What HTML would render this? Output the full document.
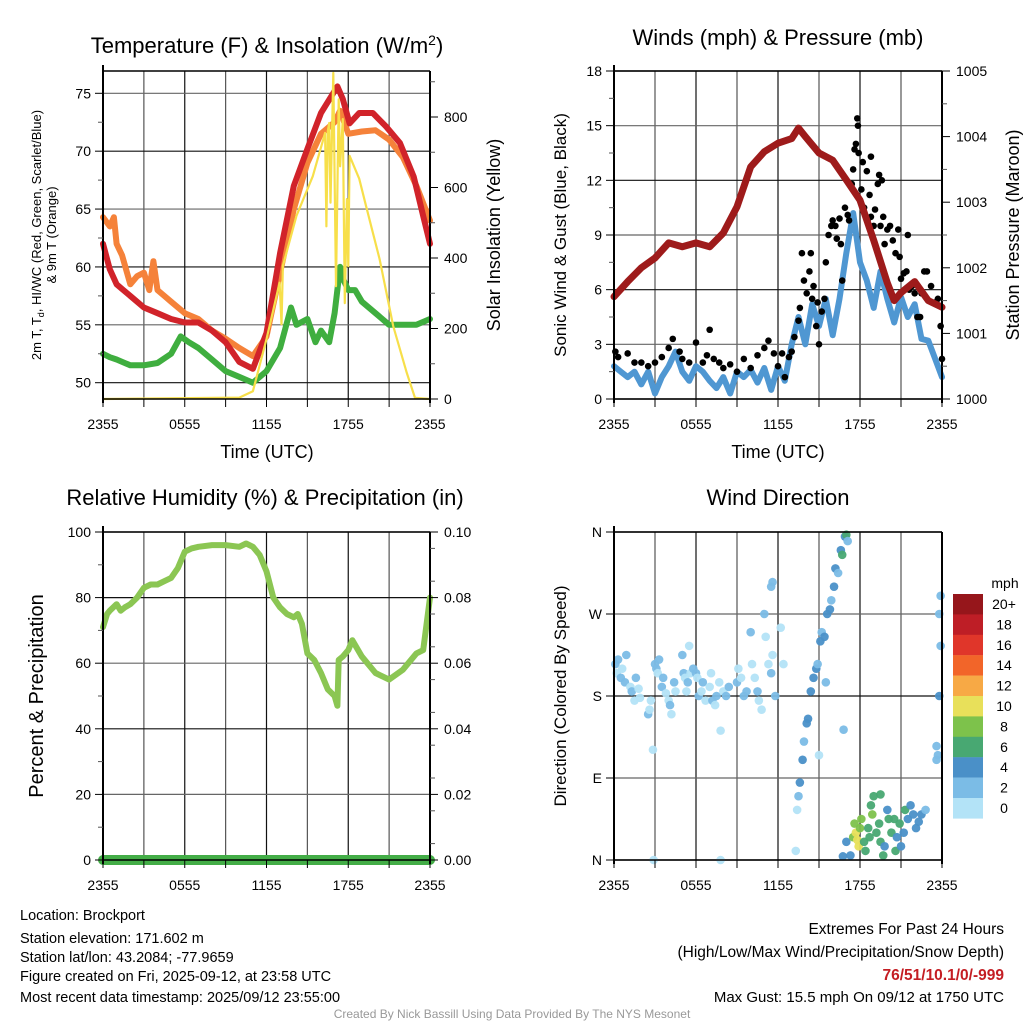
<!DOCTYPE html>
<html><head><meta charset="utf-8">
<style>
html,body{margin:0;padding:0;background:#fff;}
svg{display:block;font-family:"Liberation Sans",sans-serif;}
</style></head>
<body>
<svg id="fig" width="1024" height="1024" viewBox="0 0 1024 1024" xmlns="http://www.w3.org/2000/svg">
<g id="layer-grid"></g>
<g id="layer-data"></g>
<g id="layer-axes"></g>
<g id="layer-text"></g>
</svg>
<script>
// ===== Panel 1 data (hours since 2355) =====
const tempHours = [0,0.5,1,1.5,2,3,4,5,6,7,8,9,10,11,12,13,14,15,16,17.2,17.6,18.1,18.8,19.8,20.8,21.8,22.8,23.5,24];
const tempRed   = [62,59.8,58.5,58,57.5,56.5,56,55.5,55.2,55.2,54.5,53.5,51.8,51.2,54.3,61.2,67,70.2,73.3,75.6,74.5,72.4,73.3,73.3,72.1,70.7,67.8,64.4,62];
const orangeHours=[0,0.5,0.8,1,1.4,2,2.5,3,3.4,3.7,4,4.5,5,6,7,8,9,10,11,12,13,14,15,16,17,17.4,18,19,20,21,22,23,24];
const tempOrange =[64.3,63.5,64.3,62,61,58.5,59.2,59.5,58,60.5,58,57.5,57,56,55.5,54.5,53.8,53,52.3,54,59.5,65,69,71.5,72.5,73.5,71.5,71.7,71.8,71,69.5,67,64];
const dewHours = [0,0.5,1,2,3,4,5,5.7,6.3,7,8,9,10,11,12,13,13.8,14.2,15,15.6,16,16.6,17,17.4,17.6,18,18.5,19,20,21,22,23,24];
const dewVals  = [52.5,52.2,52,51.5,51.5,51.7,52.5,54,53.5,53,52,51,50.5,50,51,53,56.5,55,55.5,53.5,54.5,53.5,56,60,59,58,58,57,56,55,55,55,55.5];
const solarHours=[0,10,11,12,12.96,13.1,13.2,14.2,15.4,16.3,16.4,16.5,16.6,16.7,16.9,17.1,17.3,17.4,17.6,17.75,17.9,18,18.1,18.8,19.3,20.3,21.3,22.3,22.9,24];
const solarVals =[0,4,22,170,330,212,378,520,632,755,490,760,783,557,925,320,850,660,794,272,567,377,690,625,548,397,207,74,3,0];
const p1YTicks=[50,55,60,65,70,75];
const p1Y2Ticks=[0,200,400,600,800];
const xTickLabels=["2355","0555","1155","1755","2355"];
// ===== Panel 2 data =====
const presHours=[0,1,2,3,4,5,6,7,8,9,10,11,12,13,13.5,14,15,16,17,18,19,20,20.5,21,22,23,24];
const presVals =[1001.56,1001.79,1002.0,1002.15,1002.38,1002.32,1002.38,1002.32,1002.53,1002.93,1003.54,1003.77,1003.9,1003.97,1004.13,1004.0,1003.75,1003.64,1003.34,1003.03,1002.42,1001.77,1001.5,1001.62,1001.79,1001.5,1001.4];
const windVals=[1.8,1.5,1.2,1.5,0.8,1.5,0.3,1.2,1.8,2.6,1.5,1.0,1.8,1.5,1.0,0.6,1.2,0.3,1.5,1.2,1.6,0.9,1.7,0.5,1.8,1.0,3.0,4.5,3.0,5.2,4.0,5.5,3.5,5.5,8.0,10.2,7.5,6.5,5.0,7.0,5.5,4.2,5.6,4.5,5.2,3.3,3.2,2.2,1.2];
const gustHours=[0.1,0.3,1,1.5,2,2.5,3,3.5,4,4.3,4.8,5,5.5,6,6.5,6.8,7,7.3,7.7,8,8.5,9,9.5,10,10.5,11,11.3,11.7,12,12.3,12.5,12.8,13,13.2,13.5,13.6,13.75,13.9,14.1,14.3,14.4,14.5,14.6,14.8,14.9,15.0,15.2,15.4,15.5,15.7,15.9,16.0,16.2,16.3,16.5,16.6,16.7,16.9,17.1,17.2,17.4,17.5,17.6,17.7,17.8,17.85,17.9,18.1,18.2,18.3,18.5,18.6,18.7,18.8,18.8,19.0,19.1,19.3,19.4,19.5,19.6,19.7,19.8,20.0,20.2,20.4,20.6,20.8,20.9,21.0,21.2,21.4,21.5,21.6,21.8,22.0,22.2,22.4,22.5,22.7,22.9,23.2,23.5,23.7,23.9,24];
const gustVals =[2.6,2.3,2.5,2.0,2.0,1.8,2.0,2.3,2.8,3.3,2.6,2.2,2.0,3.1,2.0,2.4,3.8,2.2,2.0,1.7,1.9,1.5,2.2,1.7,2.4,2.8,3.2,2.5,1.8,2.5,1.2,2.3,2.6,3.4,4.3,5.0,8.0,6.5,5.8,7.0,8.0,5.5,6.2,4.0,5.3,3.0,4.8,5.5,7.5,9.0,9.5,9.8,9.5,8.8,9.9,8.5,6.5,10.5,10.1,9.8,11.8,12.6,13.7,14.0,15.4,15.0,13.5,11.5,13.0,10.5,12.5,9.9,11.2,10.0,13.3,9.5,10.4,11.8,12.3,9.5,12.0,10.0,8.5,9.3,9.5,8.7,8.0,9.3,7.8,6.6,6.9,7.0,9.0,6.0,6.2,5.8,4.5,4.5,5.8,7.0,7.0,6.2,5.3,5.5,4.0,2.2];
const p2YTicks=[0,3,6,9,12,15,18];
const p2Y2Ticks=[1000,1001,1002,1003,1004,1005];
// ===== Panel 3 data =====
const rhHours=[0,0.3,0.5,1,1.3,1.6,2,2.5,3,3.5,4,4.5,5,5.5,6,6.5,7,8,9,10,10.5,11,11.5,12,12.5,13,13.5,14,14.3,14.6,15,15.5,16,16.5,17,17.2,17.3,17.6,18,18.3,19,20,21,22,23,23.5,24];
const rhVals =[71,75,76,78,76,77,78,80,83,84,84,85,86,89,94,95,95.5,96,96,95.5,96.5,95.5,93,88,80,77,75,74,75,72,63,61,57,52,50,47,61,62,64,67,62,57,55,58,63,64,80];
const precipVals=[0,0,0,0,0,0,0,0,0,0,0,0,0,0,0,0,0,0,0,0,0,0,0,0,0];
const p3YTicks=[0,20,40,60,80,100];
const p3Y2Ticks=["0.00","0.02","0.04","0.06","0.08","0.10"];
// ===== Panel 4 data (hour, direction deg, speed mph) =====
const dirHours=[0.1,0.2,0.3,0.5,0.6,0.8,0.9,1.2,1.3,1.5,1.6,1.8,1.9,2.5,2.6,2.7,3.0,3.1,3.2,3.3,3.5,3.6,3.8,4.0,4.1,4.2,4.4,4.5,5.0,5.1,5.2,5.3,5.4,5.6,5.5,5.8,6.0,6.1,6.2,6.4,6.5,6.7,7.0,7.1,7.2,7.4,7.5,7.7,8.0,8.2,8.4,9.0,9.1,9.3,9.5,9.7,10.0,10.1,10.3,10.5,10.6,10.8,11.0,11.1,11.3,11.5,11.6,11.8,11.5,11.6,12.2,12.4,2.85,2.9,7.8,7.8,13.3,13.4,13.5,13.6,13.8,13.9,14.1,14.2,14.4,14.6,14.8,14.9,15.1,15.2,15.0,15.5,15.4,15.6,15.8,15.9,16.1,16.2,16.4,16.6,16.7,16.9,17.0,17.1,16.8,17.0,17.3,17.5,17.6,17.7,17.8,17.9,18.0,18.1,18.3,18.4,18.6,18.7,18.8,18.9,19.0,19.2,19.4,19.5,19.7,19.8,20.0,20.1,20.3,20.5,20.6,20.7,20.9,21.0,21.2,21.3,21.5,21.7,21.9,22.1,22.3,22.5,22.8,16.75,19.5,23.6,23.7,23.6,23.8,23.8,23.9,23.9];
const dirVals=[215,205,220,200,210,195,225,190,185,175,200,188,178,160,165,175,215,210,205,220,190,200,183,175,170,160,195,185,225,205,200,185,195,205,235,210,205,200,180,185,195,175,190,205,175,170,180,195,185,180,190,195,210,200,180,185,250,215,200,185,175,165,270,245,215,205,225,180,300,305,255,215,121,0,142,0,10,55,70,85,110,130,150,155,185,200,210,215,240,250,115,195,245,270,275,285,300,320,315,340,335,355,357,350,143,20,5,25,40,30,22,15,35,45,20,10,35,25,60,50,70,30,40,20,5,15,55,45,30,45,10,25,40,15,30,55,45,60,50,35,42,50,55,4,72,110,115,125,180,270,290,235];
const dirSpeeds=[2,1,3,2,1,3,2,1,2,1,2,1,1,2,1,1,3,2,1,2,3,2,1,1,2,1,3,1,2,3,1,1,2,1,1,2,3,1,2,1,2,1,1,1,2,1,2,1,1,2,3,2,1,1,2,3,2,1,1,2,1,1,3,1,1,2,1,2,2,2,1,1,1,1,1,1,1,1,3,4,4,3,4,4,4,4,4,3,4,3,1,3,4,4,5,3,5,5,2,5,6,5,6,3,2,5,5,9,9,10,11,11,8,8,6,6,6,6,6,8,6,6,6,7,6,5,5,6,6,6,6,4,6,5,4,6,4,4,4,4,5,4,3,4,6,2,2,2,4,2,2,2];
const dirTickLabels=["N","E","S","W","N"];
const cbLabels=["20+","18","16","14","12","10","8","6","4","2","0"];
const cbColors=["#96161b","#be1e26","#e0362a","#f26529","#f7a945","#e8e05a","#7dc24b","#48a872","#4a90c8","#7bbce6","#b3e3f7"];

const NS="http://www.w3.org/2000/svg";
const gGrid=document.getElementById('layer-grid');
const gData=document.getElementById('layer-data');
const gAxes=document.getElementById('layer-axes');
const gText=document.getElementById('layer-text');
function mk(tag,attrs,parent){const e=document.createElementNS(NS,tag);for(const k in attrs)e.setAttribute(k,attrs[k]);parent.appendChild(e);return e;}
function txt(s,x,y,size,anchor,parent,extra){const e=mk('text',Object.assign({x:x,y:y,'font-size':size,'text-anchor':anchor||'middle',fill:'#000'},extra||{}),parent);e.textContent=s;return e;}

const P1={x0:103,x1:430,y0:71,y1:399};
const P2={x0:614,x1:942,y0:71,y1:399};
const P3={x0:103,x1:430,y0:532,y1:860};
const P4={x0:614,x1:942,y0:532,y1:860};
function xs(P){return h=>P.x0+(P.x1-P.x0)*h/24;}
function lin(d0,d1,r0,r1){return v=>r0+(v-d0)*(r1-r0)/(d1-d0);}

function frame(P,hLines,name){
  const g=mk('g',{},gGrid);
  
  
  for(let i=1;i<8;i++){const x=P.x0+(P.x1-P.x0)*i/8;mk('line',{x1:x,y1:P.y0,x2:x,y2:P.y1,stroke:i%2?'#555':'#111','stroke-width':1.2},g);}
  hLines.forEach((y,i)=>mk('line',{x1:P.x0,y1:y,x2:P.x1,y2:y,stroke:i%2?'#666':'#111','stroke-width':1.2},g));
  const a=mk('g',{},gAxes);
  
  
  mk('line',{x1:P.x0,y1:P.y0,x2:P.x1,y2:P.y0,stroke:'#000','stroke-width':1.5},a);
  mk('line',{x1:P.x0,y1:P.y1,x2:P.x1,y2:P.y1,stroke:'#000','stroke-width':1.5},a);
  mk('line',{x1:P.x0,y1:P.y0-6,x2:P.x0,y2:P.y1+4,stroke:'#000','stroke-width':2},a);
  mk('line',{x1:P.x1,y1:P.y0,x2:P.x1,y2:P.y1+4,stroke:'#000','stroke-width':2},a);
  for(let i=0;i<=8;i++){const x=P.x0+(P.x1-P.x0)*i/8;mk('line',{x1:x,y1:P.y1,x2:x,y2:P.y1+8,stroke:'#000','stroke-width':1},a);}
  xTickLabels.forEach((s,i)=>{const t=txt(s,P.x0+(P.x1-P.x0)*i/4,P.y1+30,14,'middle',gText);
    
    });
  return a;
}
function yTicksLeft(P,vals,sc,labels,a,minor){
  vals.forEach((v,i)=>{const y=sc(v);mk('line',{x1:P.x0-8,y1:y,x2:P.x0,y2:y,stroke:'#000'},a);
    const t=txt(labels?labels[i]:String(v),P.x0-12,y+5,14,'end',gText);
    
    });
  (minor||[]).forEach(v=>{const y=sc(v);mk('line',{x1:P.x0-5,y1:y,x2:P.x0,y2:y,stroke:'#555'},a);});
}
function yTicksRight(P,vals,sc,labels,a,minor){
  vals.forEach((v,i)=>{const y=sc(v);mk('line',{x1:P.x1,y1:y,x2:P.x1+8,y2:y,stroke:'#000'},a);
    const t=txt(labels?labels[i]:String(v),P.x1+14,y+5,14,'start',gText);
    
    });
  (minor||[]).forEach(v=>{const y=sc(v);mk('line',{x1:P.x1,y1:y,x2:P.x1+5,y2:y,stroke:'#555'},a);});
}
function path(xsArr,ysArr,fx,fy,color,w,name){
  let d='';xsArr.forEach((h,i)=>{d+=(i?'L':'M')+fx(h).toFixed(1)+','+fy(ysArr[i]).toFixed(1);});
  const p=mk('path',{d:d,fill:'none',stroke:color,'stroke-width':w,'stroke-linejoin':'round','stroke-linecap':'round'},gData);
  
  
  return p;
}

// ---- Panel 1 ----
const x1=xs(P1), yT=lin(50,75,382.7,93.3), yS=lin(0,800,399,117);
let a1=frame(P1,p1YTicks.map(yT),'temp-panel');
yTicksLeft(P1,p1YTicks,yT,null,a1,[52.5,57.5,62.5,67.5,72.5]);
yTicksRight(P1,p1Y2Ticks,yS,null,a1,[100,300,500,700,900]);
path(dewHours,dewVals,x1,yT,'#3fae3f',6,'dewpoint-line');
path(orangeHours,tempOrange,x1,yT,'#f5823a',6,'temp-9m-line');
path(tempHours,tempRed,x1,yT,'#d1232a',6,'temp-2m-line');
path(solarHours,solarVals,x1,yS,'#f7df4a',2.2,'solar-line');

// ---- Panel 2 ----
const x2=xs(P2), yW=lin(0,18,399,71), yP=lin(1000,1005,399,71);
let a2=frame(P2,p2YTicks.map(yW),'wind-panel');
yTicksLeft(P2,p2YTicks,yW,null,a2,[1.5,4.5,7.5,10.5,13.5,16.5]);
yTicksRight(P2,p2Y2Ticks,yP,null,a2,[1000.5,1001.5,1002.5,1003.5,1004.5]);
path(windVals.map((v,i)=>i*0.5),windVals,x2,yW,'#4f97d2',6,'sonic-wind-line');
gustHours.forEach((h,i)=>{const c=mk('circle',{cx:x2(h),cy:yW(gustVals[i]),r:3.3,fill:'#000'},gData);
  
  });
path(presHours,presVals,x2,yP,'#9e1b1b',7,'pressure-line');

// ---- Panel 3 ----
const x3=xs(P3), yR=lin(0,100,860,532), yPr=lin(0,0.1,860,532);
let a3=frame(P3,p3YTicks.map(yR),'rh-panel');
yTicksLeft(P3,p3YTicks,yR,null,a3,[10,30,50,70,90]);
yTicksRight(P3,p3YTicks,yR,p3Y2Ticks,a3,[5,15,25,35,45,55,65,75,85,95]);
path(rhHours,rhVals,x3,yR,'#8bc653',6,'rh-line');
path(precipVals.map((v,i)=>i),precipVals,x3,yPr,'#43ad47',10,'precip-line');

// ---- Panel 4 ----
const x4=xs(P4), yD=lin(0,360,860,532);
let a4=frame(P4,[0,90,180,270,360].map(yD),'direction-panel');
yTicksLeft(P4,[0,90,180,270,360],yD,dirTickLabels,a4,[]);
function spColor(s){const idx=Math.min(10,Math.floor(s/2));return cbColors[10-idx];}
dirHours.forEach((h,i)=>{const c=mk('circle',{cx:x4(h),cy:yD(dirVals[i]),r:4.3,fill:spColor(dirSpeeds[i]),'fill-opacity':0.95},gData);
  
  });
// colorbar
const cb=mk('g',{},gAxes);


cbColors.forEach((c,i)=>{mk('rect',{x:953,y:594+i*20.4,width:30,height:20.6,fill:c},cb);
  const t=txt(cbLabels[i],1004,594+i*20.4+15,14,'middle',gText);
  
  });
txt('mph',1005,588,14,'middle',gText);

// ---- Titles and axis labels ----
const T=gText;
let t;
t=txt('',267,53,22,'middle',T);t.innerHTML='Temperature (F) &amp; Insolation (W/m<tspan dy="-8" font-size="14">2</tspan><tspan dy="8">)</tspan>';

t=txt('Winds (mph) & Pressure (mb)',778,45,22,'middle',T);
t=txt('Relative Humidity (%) & Precipitation (in)',265,505,22,'middle',T);
t=txt('Wind Direction',778,505,22,'middle',T);
t=txt('Time (UTC)',267,458,18,'middle',T);
t=txt('Time (UTC)',778,458,18,'middle',T);
t=txt('Solar Insolation (Yellow)',0,0,18,'middle',T,{transform:'translate(500,235) rotate(-90)'});
t=txt('',0,0,13,'middle',T,{transform:'translate(41,235) rotate(-90)'});t.innerHTML='2m T, T<tspan dy="3" font-size="9">d</tspan><tspan dy="-3">, HI/WC (Red, Green, Scarlet/Blue)</tspan>';

t=txt('& 9m T (Orange)',0,0,13,'middle',T,{transform:'translate(56,235) rotate(-90)'});
t=txt('Sonic Wind & Gust (Blue, Black)',0,0,17,'middle',T,{transform:'translate(566,235) rotate(-90)'});
t=txt('Station Pressure (Maroon)',0,0,18,'middle',T,{transform:'translate(1019,235) rotate(-90)'});
t=txt('Percent & Precipitation',0,0,20,'middle',T,{transform:'translate(43,696) rotate(-90)'});
t=txt('Direction (Colored By Speed)',0,0,17,'middle',T,{transform:'translate(566,696) rotate(-90)'});

// ---- Footer ----
const left=["Location: Brockport","Station elevation: 171.602 m","Station lat/lon: 43.2084; -77.9659","Figure created on Fri, 2025-09-12, at 23:58 UTC","Most recent data timestamp: 2025/09/12 23:55:00"];
const ly=[920,943,962,981,1002];
left.forEach((s,i)=>{const e=txt(s,20,ly[i],14.5,'start',T);});
t=txt('Extremes For Past 24 Hours',1004,934,15.5,'end',T);
t=txt('(High/Low/Max Wind/Precipitation/Snow Depth)',1004,957,15.5,'end',T);
t=txt('76/51/10.1/0/-999',1004,980,15.5,'end',T,{fill:'#c41e24','font-weight':'bold'});
t=txt('Max Gust: 15.5 mph On 09/12 at 1750 UTC',1004,1002,15,'end',T);
t=txt('Created By Nick Bassill Using Data Provided By The NYS Mesonet',512,1018,12,'middle',T,{fill:'#999'});
</script>
</body></html>
